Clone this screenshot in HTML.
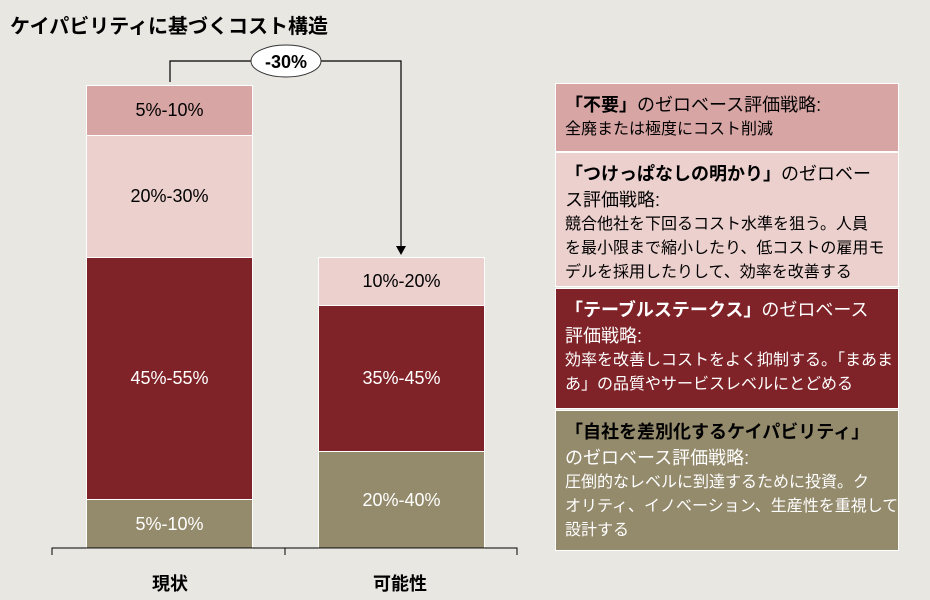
<!DOCTYPE html>
<html><head><meta charset="utf-8"><style>
body{margin:0;width:930px;height:600px;background:#e8e7e2;position:relative;overflow:hidden;font-family:"Liberation Sans","Noto Sans CJK JP",sans-serif;}
.a{position:absolute;box-sizing:border-box;}
.seg{position:absolute;box-sizing:border-box;border:1px solid #fff;display:flex;align-items:center;justify-content:center;font-size:18px;}
.lg{position:absolute;left:555px;width:344px;box-sizing:border-box;border:1px solid #fff;padding:8px 0 0 9px;white-space:nowrap;overflow:hidden;}
.h{font-size:18px;line-height:26px;}
.h b{font-weight:bold;}
.t{font-size:16px;line-height:24px;}
</style></head><body>
<div class="a" style="left:10px;top:10px;font-size:20px;font-weight:bold;color:#000;">ケイパビリティに基づくコスト構造</div>

<div class="seg" style="left:86px;top:85px;width:167px;height:51px;background:#d8a5a5;">5%-10%</div>
<div class="seg" style="left:86px;top:135px;width:167px;height:123px;background:#ebd0ce;">20%-30%</div>
<div class="seg" style="left:86px;top:257px;width:167px;height:243px;background:#7f2328;color:#fff;">45%-55%</div>
<div class="seg" style="left:86px;top:499px;width:167px;height:50px;background:#948a6c;color:#fff;">5%-10%</div>

<div class="seg" style="left:318px;top:257px;width:167px;height:49px;background:#ebd0ce;">10%-20%</div>
<div class="seg" style="left:318px;top:305px;width:167px;height:147px;background:#7f2328;color:#fff;">35%-45%</div>
<div class="seg" style="left:318px;top:451px;width:167px;height:98px;background:#948a6c;color:#fff;">20%-40%</div>

<svg class="a" style="left:0;top:0" width="930" height="600">
<path d="M170 82 V61 H401 V250" fill="none" stroke="#000" stroke-width="1.2"/>
<path d="M396 246 L401 255 L406 246 Z" fill="#000"/>
<ellipse cx="286" cy="61" rx="35" ry="16" fill="#fff" stroke="#333" stroke-width="1"/>
<text x="286" y="68" text-anchor="middle" font-size="18" font-weight="bold" font-family="Liberation Sans, sans-serif">-30%</text>
<path d="M52 555 V548 H517 V555 M285 548 V555" fill="none" stroke="#000" stroke-width="1"/>
</svg>
<div class="a" style="left:140px;top:570px;width:60px;text-align:center;font-size:18px;font-weight:bold;">現状</div>
<div class="a" style="left:360px;top:570px;width:80px;text-align:center;font-size:18px;font-weight:bold;">可能性</div>

<div class="lg" style="top:83px;height:69px;background:#d8a5a5;"><div class="h"><b>「不要」</b>のゼロベース評価戦略:</div><div class="t">全廃または極度にコスト削減</div></div>
<div class="lg" style="top:152px;height:135px;background:#ebd0ce;"><div class="h"><b>「つけっぱなしの明かり」</b>のゼロベー<br>ス評価戦略:</div><div class="t">競合他社を下回るコスト水準を狙う。人員<br>を最小限まで縮小したり、低コストの雇用モ<br>デルを採用したりして、効率を改善する</div></div>
<div class="lg" style="top:288px;height:121px;background:#7f2328;color:#fff;"><div class="h"><b>「テーブルステークス」</b>のゼロベース<br>評価戦略:</div><div class="t">効率を改善しコストをよく抑制する。「まあま<br>あ」の品質やサービスレベルにとどめる</div></div>
<div class="lg" style="top:410px;height:141px;background:#948a6c;color:#fff;"><div class="h"><b style="color:#000;">「自社を差別化するケイパビリティ」</b><br>のゼロベース評価戦略:</div><div class="t">圧倒的なレベルに到達するために投資。ク<br>オリティ、イノベーション、生産性を重視して<br>設計する</div></div>
</body></html>
